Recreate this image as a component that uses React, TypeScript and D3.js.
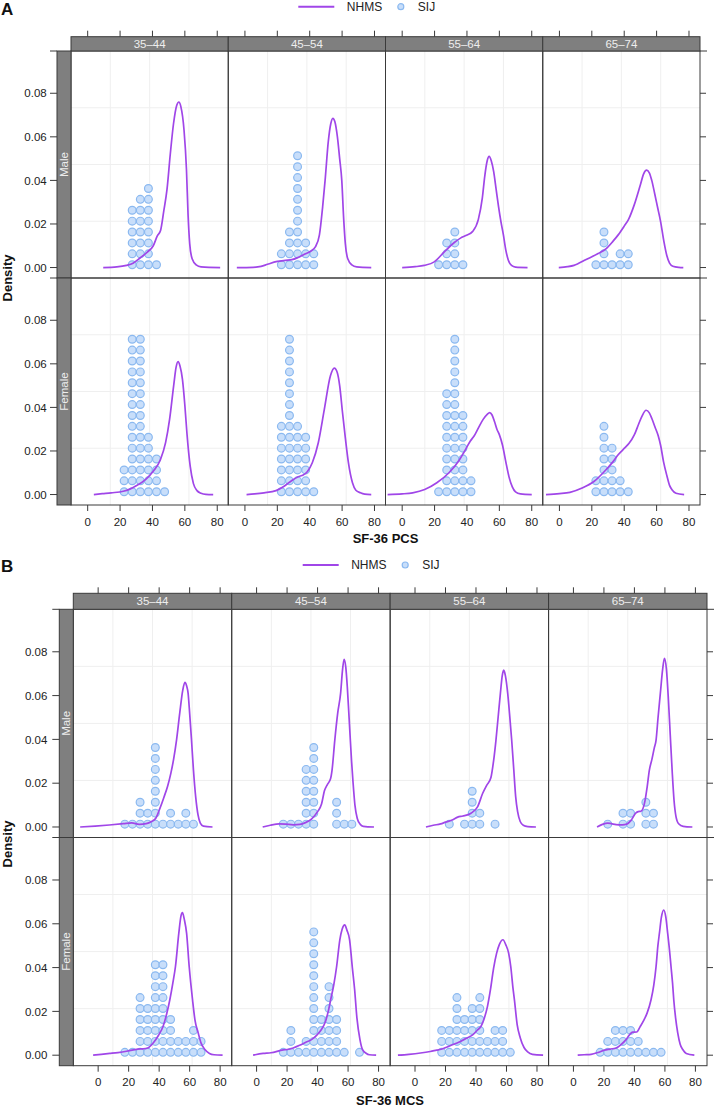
import * as d3 from "d3";

const ageGroups = ["35–44", "45–54", "55–64", "65–74"];
const sexes = ["Male", "Female"];
const xTicks = [0, 20, 40, 60, 80];
const yTicks = [0, 0.02, 0.04, 0.06, 0.08];
const legendKeys = ["NHMS", "SIJ"];

// NHMS density curves: [score, density], one list per age group
const pcsMaleNhms = [
  [[9.6, 0], [18, 0.0003], [24, 0.001], [28, 0.002], [32.5, 0.0045], [37, 0.0072], [40.5, 0.01], [43, 0.0145], [45, 0.017], [47, 0.026], [49, 0.036], [51, 0.052], [53, 0.066], [55, 0.0745], [56.3, 0.076], [57.5, 0.074], [59.5, 0.063], [61, 0.045], [62, 0.024], [63, 0.011], [64.5, 0.004], [67, 0.0012], [70, 0.0003], [81.8, 0]],
  [[-5, 0], [5, 0.0001], [10, 0.0005], [14, 0.0015], [20, 0.0028], [25, 0.0033], [29, 0.0036], [33, 0.0047], [37, 0.0062], [40.5, 0.0075], [43.5, 0.0095], [46, 0.015], [48, 0.028], [49.5, 0.04], [51.5, 0.058], [53, 0.066], [54.3, 0.0685], [55.5, 0.067], [57.1, 0.06], [58.5, 0.05], [59.8, 0.04], [61, 0.022], [62, 0.011], [63.5, 0.004], [66, 0.0012], [69, 0.0003], [78, 0]],
  [[0, 0], [8, 0.0004], [13.7, 0.001], [19.8, 0.0026], [26, 0.0072], [32.2, 0.0115], [36, 0.0135], [39.7, 0.0148], [43.4, 0.0165], [47, 0.022], [49.5, 0.032], [51, 0.042], [52.5, 0.049], [53.7, 0.051], [55, 0.049], [56.5, 0.044], [58, 0.036], [59.5, 0.028], [61, 0.021], [62.5, 0.015], [64, 0.008], [65.5, 0.0035], [67.5, 0.001], [70, 0.0002], [77.4, 0]],
  [[-0.4, 0], [5, 0.0004], [9, 0.001], [16.5, 0.0037], [23.9, 0.0064], [28.9, 0.0087], [33, 0.012], [36.3, 0.015], [40, 0.019], [42.6, 0.022], [46.3, 0.029], [50, 0.038], [52, 0.043], [53.8, 0.0447], [55.5, 0.0435], [57, 0.04], [58.8, 0.034], [60.5, 0.028], [62.5, 0.021], [64.5, 0.012], [66.3, 0.0055], [68, 0.002], [70, 0.0006], [73.7, 0.0001], [76.5, 0]],
];
const pcsFemaleNhms = [
  [[3.8, 0], [9, 0.0004], [14.5, 0.0008], [22, 0.0015], [26, 0.0025], [29.4, 0.0038], [35.7, 0.0069], [40.6, 0.0108], [44.9, 0.016], [48.1, 0.0238], [50.6, 0.0346], [53.1, 0.05], [54.6, 0.0585], [55.8, 0.061], [57, 0.059], [58.5, 0.053], [60, 0.041], [61.3, 0.028], [63.3, 0.013], [65.3, 0.005], [67.5, 0.0018], [70, 0.0006], [73, 0.0001], [77.5, 0]],
  [[1, 0], [6, 0.0003], [11.8, 0.0008], [19.2, 0.0018], [24.2, 0.0038], [29.2, 0.0066], [32.9, 0.0082], [36, 0.009], [38.5, 0.0105], [41.6, 0.0146], [45.3, 0.0238], [49, 0.039], [52.8, 0.0545], [55.2, 0.058], [57, 0.056], [58.5, 0.05], [60.2, 0.038], [62, 0.026], [63.9, 0.0146], [66.4, 0.0054], [68.5, 0.002], [71.3, 0.0008], [74, 0.0002], [78, 0]],
  [[-9, 0], [0, 0.0003], [6.5, 0.0008], [13.9, 0.0023], [21.4, 0.0054], [28.9, 0.01], [35, 0.0155], [39, 0.0205], [42, 0.0245], [44.5, 0.027], [47, 0.0305], [50, 0.0345], [52.5, 0.0368], [54, 0.0376], [55.5, 0.0365], [57, 0.0335], [58.5, 0.03], [60, 0.0275], [62, 0.0225], [64, 0.015], [66, 0.008], [68, 0.0035], [70, 0.0012], [73, 0.0003], [80, 0]],
  [[-8.3, 0], [0, 0.0004], [6.5, 0.001], [14, 0.003], [21.5, 0.0061], [28.9, 0.0115], [33, 0.015], [36.4, 0.0184], [40.5, 0.0215], [43, 0.0235], [46.3, 0.0275], [49, 0.0325], [51, 0.036], [53.5, 0.0387], [55.5, 0.0375], [57, 0.035], [59, 0.031], [61, 0.027], [62.5, 0.0225], [64.3, 0.015], [66.4, 0.0085], [68, 0.0042], [69.5, 0.0022], [72, 0.0006], [77, 0]],
];
const mcsMaleNhms = [
  [[-11.8, 0], [-2, 0.0004], [7.3, 0.0009], [16.5, 0.0015], [22, 0.0019], [27, 0.0012], [31.5, 0.0015], [35, 0.0025], [37.8, 0.004], [40.5, 0.0085], [43.1, 0.0135], [45.5, 0.0185], [47.7, 0.0246], [49.5, 0.031], [51.4, 0.0397], [53.5, 0.052], [55.5, 0.0625], [56.9, 0.066], [58, 0.0645], [59, 0.061], [60, 0.052], [61.2, 0.04], [62.5, 0.026], [64, 0.0135], [65.5, 0.0055], [67, 0.0018], [69, 0.0004], [75, 0]],
  [[4, 0], [9, 0.0008], [14.8, 0.0014], [19, 0.0013], [24.1, 0.001], [28.4, 0.0012], [32, 0.002], [36, 0.0036], [40, 0.007], [42.6, 0.0105], [44.5, 0.0165], [46.5, 0.0195], [48.5, 0.022], [49.5, 0.026], [51.3, 0.0397], [53.2, 0.052], [55.1, 0.061], [56.4, 0.072], [57.4, 0.0766], [58.5, 0.073], [59.5, 0.064], [60.5, 0.052], [61.3, 0.042], [62.3, 0.03], [63.3, 0.02], [64.5, 0.01], [66, 0.004], [68, 0.0012], [70, 0.0003], [77, 0]],
  [[7.2, 0], [12, 0.0008], [16.8, 0.0014], [20, 0.0022], [24.8, 0.0033], [28, 0.0045], [31.4, 0.005], [36.7, 0.0063], [41.1, 0.0093], [44.4, 0.0154], [47, 0.019], [49.8, 0.0226], [51.5, 0.03], [53.1, 0.0397], [54.5, 0.05], [56, 0.061], [57.2, 0.069], [58.2, 0.0716], [59.3, 0.069], [60.8, 0.061], [62.2, 0.05], [63.4, 0.0397], [64.8, 0.026], [66, 0.014], [67.3, 0.007], [69, 0.0025], [71, 0.0008], [74, 0.0002], [79.3, 0]],
  [[15.5, 0], [19, 0.0012], [22.5, 0.0018], [25, 0.0015], [28, 0.0011], [32, 0.001], [35, 0.0013], [37.8, 0.003], [41, 0.0064], [42.5, 0.007], [44.3, 0.0072], [46.9, 0.0118], [48.3, 0.018], [49.8, 0.026], [51.5, 0.031], [53, 0.036], [54.2, 0.0397], [55.5, 0.05], [57, 0.061], [58.5, 0.072], [59.7, 0.077], [61, 0.072], [62.3, 0.058], [63.5, 0.042], [64.8, 0.025], [66, 0.012], [67.2, 0.005], [69, 0.0015], [72, 0.0003], [78, 0]],
];
const mcsFemaleNhms = [
  [[-3.3, 0], [2, 0.0004], [7.7, 0.0008], [13, 0.0012], [18.6, 0.0018], [23, 0.0024], [26, 0.0028], [29.5, 0.0029], [32.5, 0.0033], [36.1, 0.0056], [39.5, 0.009], [42.6, 0.0132], [45, 0.019], [47, 0.0253], [49, 0.033], [50.7, 0.0405], [52.9, 0.0557], [54.3, 0.0635], [55.3, 0.0651], [56.5, 0.062], [58, 0.0557], [59.7, 0.0405], [61.9, 0.0253], [63.5, 0.016], [65.6, 0.0102], [67.5, 0.0055], [70, 0.0026], [73, 0.0008], [76, 0.0002], [81.6, 0]],
  [[-2.3, 0], [4.3, 0.0008], [9.4, 0.0011], [17.5, 0.0024], [20, 0.0026], [24, 0.0033], [28.2, 0.0045], [32, 0.0058], [36, 0.0071], [39.5, 0.0092], [42.3, 0.0115], [45, 0.015], [47, 0.02], [48.8, 0.026], [50.6, 0.032], [52.5, 0.0405], [54.6, 0.0527], [56.1, 0.0575], [57.8, 0.0595], [59.3, 0.057], [61, 0.0527], [62.8, 0.04], [64.3, 0.03], [65.8, 0.017], [67.8, 0.0071], [69.5, 0.0025], [71.8, 0.0009], [74, 0.0002], [78.4, 0]],
  [[-11.2, 0], [-4, 0.0004], [3.6, 0.001], [10, 0.0017], [14.2, 0.0023], [17.1, 0.0027], [22.2, 0.0041], [30.1, 0.0064], [34, 0.0078], [38, 0.0094], [41, 0.0115], [43.3, 0.0132], [45.5, 0.017], [47.5, 0.0222], [49.5, 0.03], [51.5, 0.0395], [53.5, 0.0465], [55.3, 0.0505], [57.7, 0.0527], [59.5, 0.0505], [61.4, 0.0466], [62.8, 0.0405], [64.2, 0.031], [65.2, 0.0253], [67, 0.014], [69, 0.008], [71.5, 0.0035], [73.9, 0.0015], [77, 0.0004], [84, 0]],
  [[2.8, 0], [7, 0.0002], [11.6, 0.0004], [16, 0.0012], [20.3, 0.0023], [24, 0.0028], [28, 0.0033], [31.5, 0.005], [34.5, 0.0071], [37, 0.0095], [38.8, 0.0105], [41.5, 0.0106], [43.9, 0.0132], [46.2, 0.016], [48.3, 0.0192], [50.9, 0.0253], [52.7, 0.032], [54.2, 0.0405], [55.4, 0.05], [56.4, 0.0557], [57.7, 0.063], [59.2, 0.0663], [60.6, 0.063], [61.8, 0.0557], [63, 0.048], [64, 0.0405], [65, 0.033], [65.8, 0.0253], [67, 0.017], [68.4, 0.0102], [70, 0.005], [71.7, 0.0026], [74, 0.0008], [79.3, 0]],
];

// SIJ patients: [bin centre, count] with 5-point bins
const pcsMaleSij = [
  [[27.5, 6], [32.5, 7], [37.5, 8], [42.5, 1]],
  [[22.5, 2], [27.5, 4], [32.5, 11], [37.5, 3], [42.5, 2]],
  [[22.5, 1], [27.5, 3], [32.5, 4], [37.5, 1]],
  [[22.5, 1], [27.5, 4], [32.5, 1], [37.5, 2], [42.5, 2]],
];
const pcsFemaleSij = [
  [[22.5, 3], [27.5, 15], [32.5, 15], [37.5, 6], [42.5, 4], [47.5, 1]],
  [[22.5, 7], [27.5, 15], [32.5, 7], [37.5, 6], [42.5, 1]],
  [[22.5, 1], [27.5, 10], [32.5, 15], [37.5, 8], [42.5, 2]],
  [[22.5, 2], [27.5, 7], [32.5, 5], [37.5, 2], [42.5, 1]],
];
const mcsMaleSij = [
  [[17.5, 1], [22.5, 1], [27.5, 3], [32.5, 2], [37.5, 8], [42.5, 1], [47.5, 2], [52.5, 1], [57.5, 2], [62.5, 1]],
  [[17.5, 1], [22.5, 1], [27.5, 1], [32.5, 6], [37.5, 8], [52.5, 3], [57.5, 1], [62.5, 1]],
  [[22.5, 1], [32.5, 1], [37.5, 4], [42.5, 2], [52.5, 1]],
  [[22.5, 1], [32.5, 2], [37.5, 2], [47.5, 3], [52.5, 2]],
];
const mcsFemaleSij = [
  [[17.5, 1], [22.5, 1], [27.5, 6], [32.5, 5], [37.5, 9], [42.5, 9], [47.5, 4], [52.5, 2], [57.5, 2], [62.5, 3], [67.5, 2]],
  [[17.5, 1], [22.5, 3], [27.5, 1], [32.5, 2], [37.5, 12], [42.5, 4], [47.5, 7], [52.5, 4], [57.5, 1], [67.5, 1]],
  [[17.5, 3], [22.5, 3], [27.5, 6], [32.5, 4], [37.5, 5], [42.5, 6], [47.5, 2], [52.5, 3], [57.5, 3], [62.5, 1]],
  [[17.5, 1], [22.5, 2], [27.5, 3], [32.5, 3], [37.5, 3], [42.5, 2], [47.5, 1], [52.5, 1], [57.5, 1]],
];

const FONT = "'Liberation Sans', Arial, Helvetica, sans-serif";
const LINE = "#a046e8";
const DOT_FILL = "#c8defa";
const DOT_STROKE = "#8bb9f0";
const STRIP = "#7f7f7f";
const FRAME = "#3a3a3a";
const GRID = "#efefef";

const yDomain = [-0.0048, 0.0994];
const dotBase = 0.0013;
const dotStep = 0.005;

type Cfg = {
  letter: string;
  letterY: number;
  legendX: number;
  legendY: number;
  stripTop: number;
  top: number;
  bottom: number;
  left: number;
  right: number;
  stripLeft: number;
  yLabelX: number;
  xDomain: [number, number];
  xTitle: string;
  xTitleX: number;
  xTitleY: number;
  tickLabelY: number;
  yTitleY: number;
  nhms: number[][][][];
  sij: number[][][][];
};

function Figure({ cfg }: { cfg: Cfg }) {
  const colW = (cfg.right - cfg.left) / 4;
  const rowH = (cfg.bottom - cfg.top) / 2;
  const x = d3.scaleLinear().domain(cfg.xDomain).range([0, colW]);
  const y = d3.scaleLinear().domain(yDomain).range([rowH, 0]);
  const line = d3
    .line<number[]>()
    .x((d) => x(d[0]))
    .y((d) => y(d[1]))
    .curve(d3.curveMonotoneX);
  const tick = 6;

  return (
    <g>
      {/* panel letter */}
      <text x={1} y={cfg.letterY} fontSize={17} fontWeight="bold" fill="#111">
        {cfg.letter}
      </text>

      {/* legend */}
      <line x1={cfg.legendX} x2={cfg.legendX + 36} y1={cfg.legendY} y2={cfg.legendY} stroke={LINE} strokeWidth={2} />
      <text x={cfg.legendX + 48.5} y={cfg.legendY} dy="0.35em" fontSize={12} fill="#222">
        {legendKeys[0]}
      </text>
      <circle cx={cfg.legendX + 102.5} cy={cfg.legendY} r={3} fill={DOT_FILL} stroke={DOT_STROKE} strokeWidth={1.2} />
      <text x={cfg.legendX + 119.5} y={cfg.legendY} dy="0.35em" fontSize={12} fill="#222">
        {legendKeys[1]}
      </text>

      {sexes.map((sex, r) =>
        ageGroups.map((age, c) => {
          const px = cfg.left + c * colW;
          const py = cfg.top + r * rowH;
          const dots: { cx: number; cy: number }[] = [];
          cfg.sij[r][c].forEach(([bx, n]) => {
            d3.range(n).forEach((k) => dots.push({ cx: x(bx), cy: y(dotBase + k * dotStep) }));
          });
          return (
            <g key={sex + age} transform={`translate(${px},${py})`}>
              {[1, 2, 3].map((q) => (
                <g key={q}>
                  <line x1={(colW * q) / 4} x2={(colW * q) / 4} y1={0} y2={rowH} stroke={GRID} />
                  <line x1={0} x2={colW} y1={(rowH * q) / 4} y2={(rowH * q) / 4} stroke={GRID} />
                </g>
              ))}
              {dots.map((d, i) => (
                <circle key={i} cx={d.cx} cy={d.cy} r={3.9} fill={DOT_FILL} stroke={DOT_STROKE} strokeWidth={1.2} />
              ))}
              <path d={line(cfg.nhms[r][c]) || ""} fill="none" stroke={LINE} strokeWidth={1.7} />
            </g>
          );
        })
      )}

      {/* panel frames */}
      {sexes.map((sex, r) =>
        ageGroups.map((age, c) => (
          <rect
            key={"f" + sex + age}
            x={cfg.left + c * colW}
            y={cfg.top + r * rowH}
            width={colW}
            height={rowH}
            fill="none"
            stroke={FRAME}
            strokeWidth={1}
          />
        ))
      )}

      {/* top strips */}
      {ageGroups.map((age, c) => (
        <g key={"s" + age}>
          <rect
            x={cfg.left + c * colW}
            y={cfg.stripTop}
            width={colW}
            height={cfg.top - cfg.stripTop}
            fill={STRIP}
            stroke={FRAME}
            strokeWidth={1}
          />
          <text
            x={cfg.left + c * colW + colW / 2}
            y={(cfg.stripTop + cfg.top) / 2}
            dy="0.36em"
            textAnchor="middle"
            fontSize={11.5}
            fill="#eeeeee"
          >
            {age}
          </text>
          {xTicks.map((t) => (
            <line
              key={t}
              x1={cfg.left + c * colW + x(t)}
              x2={cfg.left + c * colW + x(t)}
              y1={cfg.stripTop}
              y2={cfg.stripTop - tick}
              stroke={FRAME}
            />
          ))}
          {xTicks.map((t) => (
            <g key={"b" + t}>
              <line
                x1={cfg.left + c * colW + x(t)}
                x2={cfg.left + c * colW + x(t)}
                y1={cfg.bottom}
                y2={cfg.bottom + tick}
                stroke={FRAME}
              />
              <text
                x={cfg.left + c * colW + x(t)}
                y={cfg.tickLabelY}
                textAnchor="middle"
                fontSize={11.5}
                fill="#222"
              >
                {t}
              </text>
            </g>
          ))}
        </g>
      ))}

      {/* left strips */}
      {sexes.map((sex, r) => (
        <g key={"l" + sex}>
          <rect
            x={cfg.stripLeft}
            y={cfg.top + r * rowH}
            width={cfg.left - cfg.stripLeft}
            height={rowH}
            fill={STRIP}
            stroke={FRAME}
            strokeWidth={1}
          />
          <text
            transform={`translate(${(cfg.stripLeft + cfg.left) / 2},${cfg.top + r * rowH + rowH / 2}) rotate(-90)`}
            dy="0.36em"
            textAnchor="middle"
            fontSize={11.5}
            fill="#eeeeee"
          >
            {sex}
          </text>
          {yTicks.map((t) => (
            <g key={t}>
              <line
                x1={cfg.stripLeft - tick - 1}
                x2={cfg.stripLeft}
                y1={cfg.top + r * rowH + y(t)}
                y2={cfg.top + r * rowH + y(t)}
                stroke={FRAME}
              />
              <line
                x1={cfg.right}
                x2={cfg.right + tick}
                y1={cfg.top + r * rowH + y(t)}
                y2={cfg.top + r * rowH + y(t)}
                stroke={FRAME}
              />
              <text
                x={cfg.yLabelX}
                y={cfg.top + r * rowH + y(t)}
                dy="0.36em"
                textAnchor="end"
                fontSize={11.5}
                fill="#222"
              >
                {d3.format(".2f")(t)}
              </text>
            </g>
          ))}
        </g>
      ))}

      {/* outer extensions of the top and row-divider rules */}
      {[cfg.top, cfg.top + rowH].map((yy) => (
        <g key={"e" + yy}>
          <line x1={cfg.stripLeft - tick - 1} x2={cfg.stripLeft} y1={yy} y2={yy} stroke={FRAME} />
          <line x1={cfg.right} x2={cfg.right + tick + 1} y1={yy} y2={yy} stroke={FRAME} />
        </g>
      ))}

      {/* axis titles */}
      <text x={cfg.xTitleX} y={cfg.xTitleY} textAnchor="middle" fontSize={13} fontWeight="bold" fill="#111">
        {cfg.xTitle}
      </text>
      <text
        transform={`translate(11.5,${cfg.yTitleY}) rotate(-90)`}
        textAnchor="middle"
        fontSize={13}
        fontWeight="bold"
        fill="#111"
      >
        Density
      </text>
    </g>
  );
}

const figA: Cfg = {
  letter: "A",
  letterY: 15,
  legendX: 298.3,
  legendY: 6.7,
  stripTop: 36.7,
  top: 51,
  bottom: 505,
  left: 71,
  right: 700,
  stripLeft: 57,
  yLabelX: 46.7,
  xDomain: [-10.3, 86.8],
  xTitle: "SF-36 PCS",
  xTitleX: 385.5,
  xTitleY: 543,
  tickLabelY: 526,
  yTitleY: 278,
  nhms: [pcsMaleNhms, pcsFemaleNhms],
  sij: [pcsMaleSij, pcsFemaleSij],
};

const figB: Cfg = {
  letter: "B",
  letterY: 572,
  legendX: 302.7,
  legendY: 565,
  stripTop: 593.3,
  top: 609.3,
  bottom: 1065.7,
  left: 73.3,
  right: 707,
  stripLeft: 59.3,
  yLabelX: 47.3,
  xDomain: [-16.3, 87.6],
  xTitle: "SF-36 MCS",
  xTitleX: 390,
  xTitleY: 1105,
  tickLabelY: 1086,
  yTitleY: 844,
  nhms: [mcsMaleNhms, mcsFemaleNhms],
  sij: [mcsMaleSij, mcsFemaleSij],
};

export default function App() {
  return (
    <>
      <style>{`body{margin:0;background:#fff}`}</style>
      <svg width={717} height={1107} style={{ display: "block" }} fontFamily={FONT}>
        <rect width={717} height={1107} fill="#fff" />
        <Figure cfg={figA} />
        <Figure cfg={figB} />
      </svg>
    </>
  );
}
